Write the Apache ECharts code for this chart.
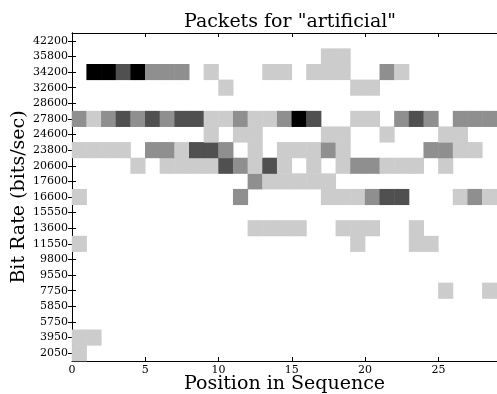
<!DOCTYPE html>
<html>
<head>
<meta charset="utf-8">
<script src="https://cdn.jsdelivr.net/npm/echarts@6/dist/echarts.min.js"></script>
<style>
  html, body { margin: 0; padding: 0; background: #fff; }
  #chart { width: 497px; height: 394px; }
</style>
</head>
<body>
<div id="chart"></div>
<script>
// bit rates, bottom to top
const rates = ["2050", "3950", "5750", "5850", "7750", "9550", "9800", "11550", "13600", "15550",
  "16600", "17600", "20600", "23800", "24600", "27800", "28600", "32600", "34200", "35800", "42200"];

// positions 0..28
const positions = Array.from({ length: 29 }, (_, i) => String(i));

// shade level per cell (0 = empty), one row per rate, same order as rates
const levels = [
  /* 2050 */  [1,0,0,0,0,0,0,0,0,0,0,0,0,0,0,0,0,0,0,0,0,0,0,0,0,0,0,0,0],
  /* 3950 */  [1,1,0,0,0,0,0,0,0,0,0,0,0,0,0,0,0,0,0,0,0,0,0,0,0,0,0,0,0],
  /* 5750 */  [0,0,0,0,0,0,0,0,0,0,0,0,0,0,0,0,0,0,0,0,0,0,0,0,0,0,0,0,0],
  /* 5850 */  [0,0,0,0,0,0,0,0,0,0,0,0,0,0,0,0,0,0,0,0,0,0,0,0,0,0,0,0,0],
  /* 7750 */  [0,0,0,0,0,0,0,0,0,0,0,0,0,0,0,0,0,0,0,0,0,0,0,0,0,1,0,0,1],
  /* 9550 */  [0,0,0,0,0,0,0,0,0,0,0,0,0,0,0,0,0,0,0,0,0,0,0,0,0,0,0,0,0],
  /* 9800 */  [0,0,0,0,0,0,0,0,0,0,0,0,0,0,0,0,0,0,0,0,0,0,0,0,0,0,0,0,0],
  /* 11550 */ [1,0,0,0,0,0,0,0,0,0,0,0,0,0,0,0,0,0,0,1,0,0,0,1,1,0,0,0,0],
  /* 13600 */ [0,0,0,0,0,0,0,0,0,0,0,0,1,1,1,1,0,0,1,1,1,0,0,1,0,0,0,0,0],
  /* 15550 */ [0,0,0,0,0,0,0,0,0,0,0,0,0,0,0,0,0,0,0,0,0,0,0,0,0,0,0,0,0],
  /* 16600 */ [1,0,0,0,0,0,0,0,0,0,0,2,0,0,0,0,0,1,1,1,2,3,3,0,0,0,1,2,1],
  /* 17600 */ [0,0,0,0,0,0,0,0,0,0,0,0,2,1,1,1,1,1,0,0,0,0,0,0,0,0,0,0,0],
  /* 20600 */ [0,0,0,0,1,0,1,1,1,1,3,2,1,3,1,0,1,0,1,2,2,1,1,1,0,1,0,0,0],
  /* 23800 */ [1,1,1,1,0,2,2,1,3,3,2,0,1,0,1,1,1,2,1,0,0,0,0,0,2,2,1,1,0],
  /* 24600 */ [0,0,0,0,0,0,0,0,0,1,0,1,1,0,0,0,0,1,1,0,0,1,0,0,0,1,1,0,0],
  /* 27800 */ [2,1,2,3,2,3,2,3,3,1,1,2,1,1,2,4,3,0,0,1,1,0,2,3,2,0,2,2,2],
  /* 28600 */ [0,0,0,0,0,0,0,0,0,0,0,0,0,0,0,0,0,0,0,0,0,0,0,0,0,0,0,0,0],
  /* 32600 */ [0,0,0,0,0,0,0,0,0,0,1,0,0,0,0,0,0,0,0,1,1,0,0,0,0,0,0,0,0],
  /* 34200 */ [0,4,4,3,4,2,2,2,0,1,0,0,0,1,1,0,1,1,1,0,0,2,1,0,0,0,0,0,0],
  /* 35800 */ [0,0,0,0,0,0,0,0,0,0,0,0,0,0,0,0,0,1,1,0,0,0,0,0,0,0,0,0,0],
  /* 42200 */ [0,0,0,0,0,0,0,0,0,0,0,0,0,0,0,0,0,0,0,0,0,0,0,0,0,0,0,0,0]
];

const xTicks = { min: 0, max: 29, step: 5 };

const cells = [];
levels.forEach((row, y) => {
  row.forEach((v, x) => {
    if (v > 0) cells.push([x, y, v]);
  });
});

const serif = "DejaVu Serif";
const frame = { show: true, lineStyle: { color: "#000", width: 1 } };
const tickIn = { show: true, inside: true, length: 4, lineStyle: { color: "#000" } };

const chart = echarts.init(document.getElementById("chart"));
chart.setOption({
  animation: false,
  backgroundColor: "#fff",
  title: {
    text: 'Packets for "artificial"',
    left: 285,
    textAlign: "center",
    top: 8,
    textStyle: { fontFamily: serif, fontWeight: "normal", fontSize: 19, color: "#000" }
  },
  grid: { left: 72, right: 0, top: 33, bottom: 33, containLabel: false, outerBoundsMode: "none" },
  visualMap: {
    show: false,
    type: "piecewise",
    dimension: 2,
    pieces: [
      { value: 1, color: "#cccccc" },
      { value: 2, color: "#8f8f8f" },
      { value: 3, color: "#505050" },
      { value: 4, color: "#000000" }
    ]
  },
  xAxis: [
    { type: "category", data: positions, show: false },
    {
      type: "value", position: "bottom",
      min: xTicks.min, max: xTicks.max, interval: xTicks.step,
      axisLine: frame, axisTick: tickIn,
      axisLabel: { showMaxLabel: false, margin: 4, fontFamily: serif, fontSize: 11, color: "#000" },
      splitLine: { show: false },
      name: "Position in Sequence", nameLocation: "middle", nameGap: 14, nameMoveOverlap: false,
      nameTextStyle: { fontFamily: serif, fontSize: 19, color: "#000" }
    },
    {
      type: "value", position: "top",
      min: xTicks.min, max: xTicks.max, interval: xTicks.step,
      axisLine: frame, axisTick: tickIn,
      axisLabel: { show: false }, splitLine: { show: false }
    }
  ],
  yAxis: [
    {
      type: "category", data: rates, position: "left",
      axisLine: frame,
      axisTick: Object.assign({ alignWithLabel: true }, tickIn),
      axisLabel: { margin: 4, fontFamily: serif, fontSize: 11, color: "#000" },
      name: "Bit Rate (bits/sec)", nameLocation: "middle", nameGap: 43, nameRotate: 90, nameMoveOverlap: false,
      nameTextStyle: { fontFamily: serif, fontSize: 19, color: "#000" }
    },
    {
      type: "category", data: rates, position: "right",
      axisLine: frame,
      axisTick: Object.assign({ alignWithLabel: true }, tickIn),
      axisLabel: { show: false }
    }
  ],
  series: [
    {
      type: "heatmap",
      xAxisIndex: 0,
      yAxisIndex: 0,
      data: cells,
      itemStyle: { borderWidth: 0 },
      emphasis: { disabled: true }
    }
  ]
});
</script>
</body>
</html>
